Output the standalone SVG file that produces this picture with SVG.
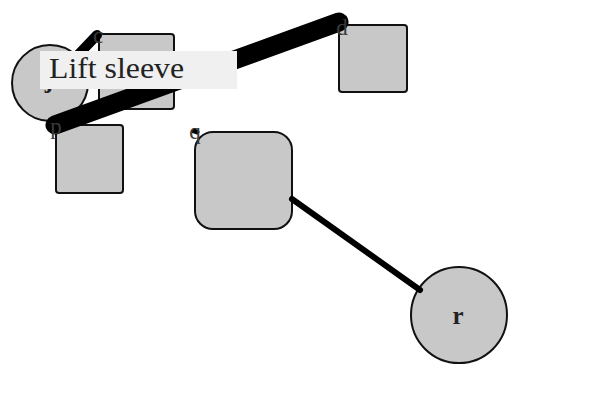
<svg xmlns="http://www.w3.org/2000/svg" width="600" height="400" viewBox="0 0 600 400">
  <style>
    .node { fill: #c8c8c8; stroke: #111; stroke-width: 2; }
    .edge { stroke: #000; stroke-linecap: round; fill: none; }
    .tag { font-family: "Liberation Serif", "DejaVu Serif", serif; font-size: 23px; fill: #3a3a3a; text-anchor: middle; }
    .name { font-family: "Liberation Serif", "DejaVu Serif", serif; font-size: 25px; font-weight: bold; fill: #222; text-anchor: middle; }
    .note { font-family: "Liberation Serif", "DejaVu Serif", serif; font-size: 29px; fill: #222; }
  </style>
  <rect width="600" height="400" fill="#fff"/>

  <g id="j">
    <circle class="node" cx="50" cy="83" r="38"/>
    <text class="name" x="49" y="88">j</text>
  </g>
  <g id="c">
    <rect class="node" x="99" y="34" width="75" height="75" rx="3"/>
  </g>
  <g id="p">
    <rect class="node" x="56" y="125" width="67" height="68" rx="3"/>
  </g>
  <g id="d">
    <rect class="node" x="339" y="25" width="68" height="67" rx="3"/>
  </g>
  <g id="q">
    <rect class="node" x="195" y="132" width="97" height="97" rx="18"/>
  </g>
  <g id="r">
    <circle class="node" cx="459" cy="315" r="48"/>
    <text class="name" x="458" y="324">r</text>
  </g>

  <g id="connectors">
    <line class="edge" x1="77" y1="56" x2="97" y2="35" stroke-width="10"/>
    <line class="edge" x1="55" y1="125" x2="339" y2="22" stroke-width="19"/>
    <line class="edge" x1="292" y1="199" x2="420" y2="290" stroke-width="6"/>
    <line class="edge" x1="194" y1="131" x2="197" y2="132" stroke-width="5"/>
  </g>

  <g id="corner-tags">
    <text class="tag" x="98" y="43">c</text>
    <text class="tag" x="56" y="134">p</text>
    <text class="tag" x="342" y="35">d</text>
    <text class="tag" x="195" y="139">q</text>
  </g>

  <g id="caption">
    <rect x="40" y="51" width="197" height="38" fill="#f0f0f0"/>
    <text class="note" x="49" y="78" textLength="135" lengthAdjust="spacingAndGlyphs">Lift sleeve</text>
  </g>
</svg>
